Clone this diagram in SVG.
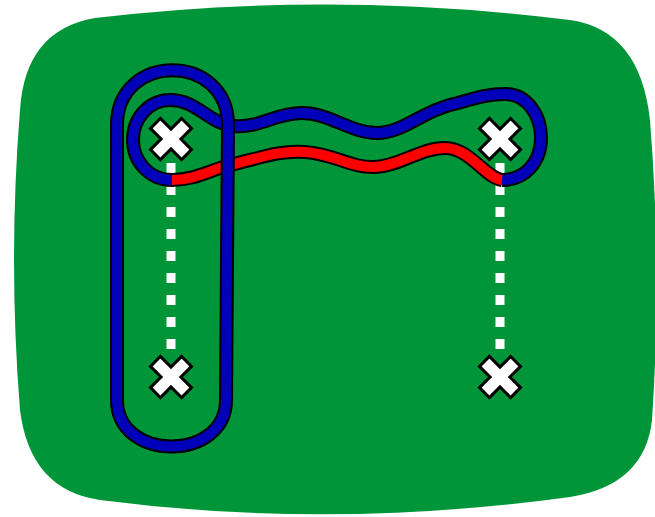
<svg xmlns="http://www.w3.org/2000/svg" width="655" height="517" viewBox="0 0 655 517">
  <defs>
    <style>
      .board { fill: #009539; }
      .link { fill: none; stroke: #fff; stroke-width: 9; stroke-dasharray: 10 12; }
      .edge { fill: none; stroke: #000; stroke-width: 14; stroke-linecap: butt; stroke-linejoin: round; }
      .blue { fill: none; stroke: #0000bb; stroke-width: 10; stroke-linejoin: round; }
      .red { fill: none; stroke: #ff0000; stroke-width: 10; stroke-linejoin: round; }
      .mark { fill: #fff; stroke: #000; stroke-width: 3; stroke-linejoin: miter; }
    </style>
    <path id="cross" class="mark" transform="rotate(45)"
          d="M-7,-22 H7 V-7 H22 V7 H7 V22 H-7 V7 H-22 V-7 H-7 Z"/>
  </defs>

  <!-- rounded board -->
  <path class="board" d="M95,18 Q330,-10 570,20 Q640,30 650,120 Q662,270 652,420 Q645,485 570,497 Q330,530 100,500 Q30,490 20,410 Q8,260 20,110 Q25,30 95,18 Z"/>

  <g id="connectors">
    <!-- dashed verticals between pins -->
    <line class="link" x1="171" y1="163" x2="171" y2="355"/>
    <line class="link" x1="500" y1="163" x2="500" y2="355"/>

    <!-- inner closed loop: outline first, then colour -->
    <path class="edge" d="M172,180 C150,180 133,162 133,140 C133,117 150,100 170,100 C198,100 208,124 235,126 C260,128 275,113 302,113 C330,113 350,133 377,133 C402,133 422,112 450,105 C470,100 485,94 505,94 C527,94 541,115 541,138 C541,162 525,180 502,180"/>
    <path class="edge" d="M172,180 C195,180 210,170 230,165 C260,158 280,150 305,152 C335,154 350,168 375,167 C400,166 420,148 445,148 C470,148 485,178 502,180"/>
    <path class="blue" d="M172,180 C150,180 133,162 133,140 C133,117 150,100 170,100 C198,100 208,124 235,126 C260,128 275,113 302,113 C330,113 350,133 377,133 C402,133 422,112 450,105 C470,100 485,94 505,94 C527,94 541,115 541,138 C541,162 525,180 502,180"/>
    <path class="red" d="M172,180 C195,180 210,170 230,165 C260,158 280,150 305,152 C335,154 350,168 375,167 C400,166 420,148 445,148 C470,148 485,178 502,180"/>

    <!-- outer loop around the left column -->
    <path class="edge" d="M117,400 L117,125 C117,52 228,52 228,125 L226,400 C226,462 117,462 117,400 Z"/>
    <path class="blue" d="M117,400 L117,125 C117,52 228,52 228,125 L226,400 C226,462 117,462 117,400 Z"/>
  </g>

  <g id="pin-top-left"><use href="#cross" x="171" y="139"/></g>
  <g id="pin-top-right"><use href="#cross" x="500" y="139"/></g>
  <g id="pin-bottom-left"><use href="#cross" x="171" y="377"/></g>
  <g id="pin-bottom-right"><use href="#cross" x="500" y="377"/></g>
</svg>
